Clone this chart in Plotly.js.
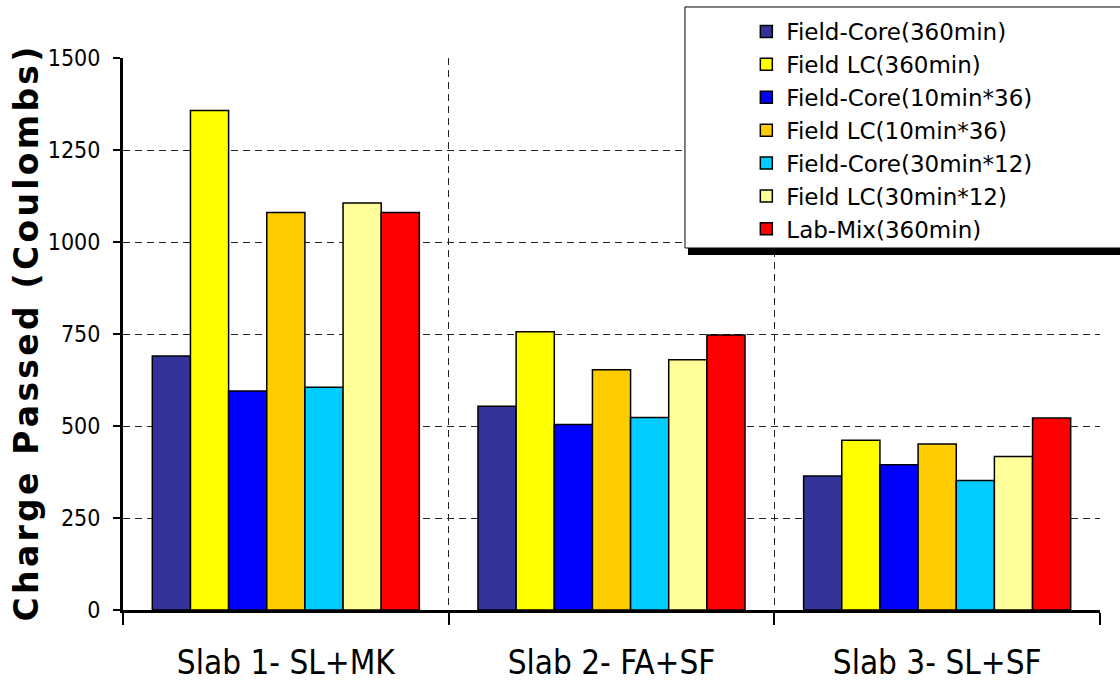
<!DOCTYPE html>
<html>
<head>
<meta charset="utf-8">
<script src="https://cdn.plot.ly/plotly-3.0.1.min.js"></script>
<style>
  html, body { margin: 0; padding: 0; background: #fff; }
  #chart { width: 1120px; height: 682px; }
</style>
</head>
<body>
<div id="chart"></div>
<script>
// Slabs on the x axis
const slabs = ['Slab 1- SL+MK', 'Slab 2- FA+SF', 'Slab 3- SL+SF'];

// Charge passed (Coulombs) per test series, one value per slab
const fieldCore360 = [690, 554, 364];
const fieldLC360 = [1357, 756, 461];
const fieldCore10x36 = [595, 504, 395];
const fieldLC10x36 = [1080, 653, 451];
const fieldCore30x12 = [605, 523, 352];
const fieldLC30x12 = [1106, 680, 417];
const labMix360 = [1080, 747, 522];

const seriesNames = [
  'Field-Core(360min)', 'Field LC(360min)', 'Field-Core(10min*36)',
  'Field LC(10min*36)', 'Field-Core(30min*12)', 'Field LC(30min*12)', 'Lab-Mix(360min)'
];
const seriesValues = [fieldCore360, fieldLC360, fieldCore10x36, fieldLC10x36,
  fieldCore30x12, fieldLC30x12, labMix360];
const seriesColors = ['#333399', '#FFFF00', '#0000FF', '#FFCC00', '#00CCFF', '#FFFF99', '#FF0000'];

const yTicks = [0, 250, 500, 750, 1000, 1250, 1500];
const yTitle = 'Charge Passed (Coulombs)';

const traces = seriesNames.map((name, i) => ({
  type: 'bar',
  name: name,
  x: slabs,
  y: seriesValues[i],
  marker: { color: seriesColors[i], line: { color: '#000', width: 1.5 } },
  hoverinfo: 'x+y+name'
}));

const condensed = '"DejaVu Sans Condensed", "DejaVu Sans", sans-serif';
const regular = '"DejaVu Sans", sans-serif';

// spread the bold axis title out a little with hair spaces
const spacedTitle = Array.from(yTitle).join('\u200A');

const layout = {
  width: 1120,
  height: 682,
  margin: { l: 123, r: 20, t: 58, b: 72, autoexpand: false },
  paper_bgcolor: '#fff',
  plot_bgcolor: '#fff',
  barmode: 'group',
  bargap: 0.18,
  bargroupgap: 0,
  showlegend: true,
  legend: {
    x: 0.638, y: 1.087, xanchor: 'left', yanchor: 'top',
    bgcolor: 'rgba(0,0,0,0)', borderwidth: 0,
    font: { family: regular, size: 23, color: '#000' },
    tracegroupgap: 0
  },
  xaxis: {
    type: 'category',
    automargin: false,
    tickson: 'boundaries',
    showline: true, linecolor: '#000', linewidth: 3,
    ticks: 'outside', ticklen: 12, tickwidth: 2, tickcolor: '#000',
    showgrid: true, gridcolor: '#222', gridwidth: 1, griddash: '7px,5px',
    tickfont: { family: condensed, size: 33, color: '#000' },
    ticklabelstandoff: 21,
    zeroline: false
  },
  yaxis: {
    automargin: false,
    range: [0, 1500],
    tickvals: yTicks,
    ticktext: yTicks.map(String),
    showline: true, linecolor: '#000', linewidth: 3,
    ticks: 'outside', ticklen: 7, tickwidth: 2, tickcolor: '#000',
    showgrid: true, gridcolor: '#222', gridwidth: 1, griddash: '7px,5px',
    tickfont: { family: condensed, size: 23, color: '#000' },
    ticklabelstandoff: 8,
    zeroline: false,
    title: {
      text: spacedTitle,
      font: { family: regular, size: 33, color: '#000', weight: 'bold' },
      standoff: 0
    }
  },
  shapes: [
    // legend frame drop shadow
    { type: 'rect', xref: 'paper', yref: 'paper', layer: 'above',
      x0: 0.5783, x1: 1.03, y0: 0.6431, y1: 0.6558,
      fillcolor: '#000', line: { width: 0 } },
    // legend frame
    { type: 'rect', xref: 'paper', yref: 'paper', layer: 'above',
      x0: 0.5752, x1: 1.03, y0: 0.6558, y1: 1.0924,
      fillcolor: '#fff', line: { color: '#000', width: 1 } }
  ]
};

Plotly.newPlot('chart', traces, layout, { displayModeBar: false, staticPlot: true });
</script>
</body>
</html>
